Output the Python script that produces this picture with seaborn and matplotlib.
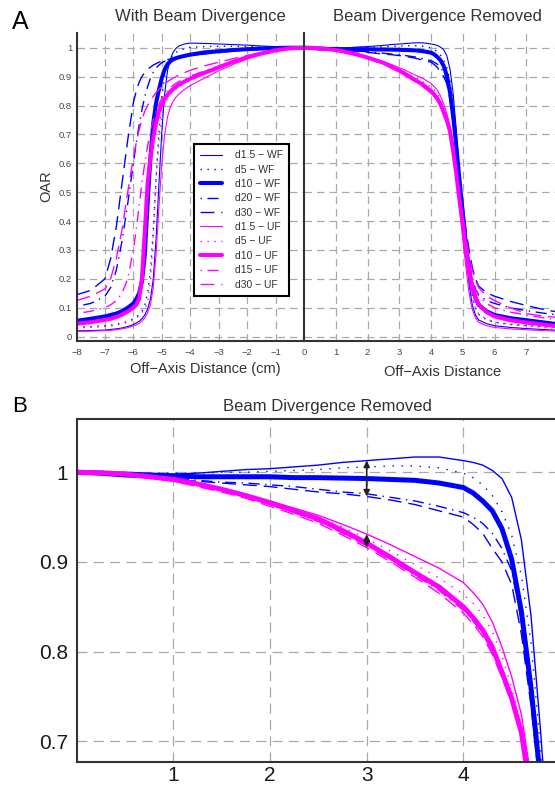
import numpy as np
import matplotlib
matplotlib.use("Agg")
import matplotlib.pyplot as plt
import seaborn as sns
from matplotlib.ticker import FuncFormatter, FixedLocator

sns.set_style("white")
plt.rcParams['font.family'] = ['Liberation Sans', 'DejaVu Sans']

# ---------------- data ----------------
series_names = ["d1.5 − WF", "d5 − WF", "d10 − WF", "d20 − WF", "d30 − WF",
                "d1.5 − UF", "d5 − UF", "d10 − UF", "d15 − UF", "d30 − UF"]

# Off-axis positions, left half (with beam divergence)
XL = [-8.0, -7.5, -7.0, -6.8, -6.6, -6.4, -6.2, -6.0, -5.9, -5.8, -5.7, -5.6, -5.5, -5.4,
      -5.3, -5.2, -5.1, -5.0, -4.9, -4.8, -4.7, -4.6, -4.5, -4.4, -4.2, -4.0, -3.5, -3.0,
      -2.5, -2.0, -1.5, -1.0, -0.5, 0.0]

wd_d15_WF = [.020, .021, .023, .025, .027, .030, .035, .042, .047, .053, .062, .075, .095, .13,
             .20, .34, .53, .71, .84, .92, .96, .985, .998, 1.006, 1.013, 1.016, 1.015, 1.013,
             1.011, 1.009, 1.006, 1.004, 1.001, 1.0]
wd_d5_WF = [.033, .035, .038, .040, .043, .047, .053, .062, .068, .076, .088, .11, .15, .23,
            .37, .55, .71, .83, .90, .94, .962, .975, .984, .990, .997, 1.001, 1.004, 1.005,
            1.005, 1.004, 1.003, 1.002, 1.001, 1.0]
wd_d10_WF = [.055, .062, .070, .075, .080, .088, .100, .115, .130, .150, .190, .280, .460, .620,
             .740, .810, .855, .895, .925, .943, .953, .960, .964, .967, .972, .976, .984, .988,
             .992, .995, .997, .999, 1.0, 1.0]
wd_d20_WF = [.105, .115, .140, .170, .230, .330, .460, .600, .670, .730, .785, .830, .865, .895,
             .915, .930, .940, .948, .953, .957, .960, .962, .964, .966, .969, .972, .978, .984,
             .988, .992, .995, .997, .999, 1.0]
wd_d30_WF = [.145, .160, .200, .270, .380, .530, .680, .810, .850, .880, .900, .915, .925, .933,
             .940, .945, .950, .953, .956, .959, .961, .963, .965, .967, .970, .973, .979, .985,
             .989, .993, .996, .998, .999, 1.0]
wd_d15_UF = [.018, .019, .021, .022, .024, .027, .031, .037, .041, .046, .054, .065, .082, .11,
             .17, .29, .45, .60, .70, .76, .795, .815, .829, .84, .856, .869, .895, .92,
             .942, .961, .977, .989, .997, 1.0]
wd_d5_UF = [.030, .032, .035, .037, .040, .044, .050, .058, .064, .072, .083, .098, .12, .19,
            .35, .55, .68, .76, .80, .825, .84, .85, .858, .865, .877, .888, .91, .93,
            .949, .965, .979, .99, .997, 1.0]
wd_d10_UF = [.045, .050, .058, .062, .068, .076, .087, .100, .110, .130, .200, .360, .530, .620,
             .690, .740, .780, .805, .823, .837, .848, .857, .865, .872, .883, .893, .913, .932,
             .951, .967, .980, .991, .998, 1.0]
wd_d15b_UF = [.080, .088, .100, .110, .125, .150, .200, .300, .370, .450, .530, .600, .660, .710,
              .750, .780, .805, .825, .840, .852, .862, .870, .877, .883, .893, .902, .920, .937,
              .953, .967, .980, .990, .997, 1.0]
wd_d30_UF = [.125, .140, .165, .200, .270, .370, .500, .620, .670, .715, .750, .780, .800, .818,
             .832, .845, .856, .866, .874, .882, .889, .895, .900, .905, .914, .922, .937, .950,
             .962, .973, .983, .991, .997, 1.0]

# Off-axis positions, right half (beam divergence removed) - also panel B
XR = [0.0, 0.25, 0.5, 0.75, 1.0, 1.25, 1.5, 1.75, 2.0, 2.25, 2.5, 2.75, 3.0, 3.25, 3.5, 3.75,
      4.0, 4.1, 4.2, 4.3, 4.4, 4.5, 4.6, 4.7, 4.8, 4.9, 5.0, 5.1, 5.2, 5.3, 5.4, 5.5,
      5.75, 6.0, 6.5, 7.0, 7.5, 8.0]

rm_d15_WF = [1.0, 1.0, 1.0, .999, .998, .999, 1.001, 1.003, 1.004, 1.006, 1.008, 1.011, 1.013,
             1.015, 1.017, 1.017, 1.013, 1.011, 1.008, 1.002, .993, .972, .925, .84, .71, .56,
             .42, .29, .18, .11, .075, .058, .045, .038, .032, .028, .025, .022]
rm_d5_WF = [1.0, 1.0, 1.0, .999, .999, .999, 1.0, 1.0, 1.001, 1.002, 1.003, 1.005, 1.006,
            1.007, 1.007, 1.005, .999, .994, .986, .974, .956, .93, .885, .81, .69, .56,
            .43, .31, .21, .14, .10, .077, .058, .05, .043, .039, .035, .032]
rm_d10_WF = [1.0, .999, .997, .996, .996, .995, .995, .995, .995, .994, .994, .9935, .993,
             .992, .991, .988, .983, .977, .968, .957, .937, .903, .845, .76, .655, .54,
             .43, .32, .23, .17, .135, .11, .088, .075, .064, .057, .05, .043]
rm_d20_WF = [1.0, .999, .997, .995, .993, .991, .989, .988, .986, .984, .981, .978, .976,
             .972, .968, .962, .955, .95, .943, .932, .915, .89, .835, .755, .65, .54,
             .44, .34, .26, .20, .165, .145, .125, .115, .10, .09, .082, .075]
rm_d30_WF = [1.0, .999, .997, .995, .992, .99, .988, .986, .984, .981, .978, .976, .973,
             .969, .964, .957, .95, .942, .932, .915, .90, .875, .82, .74, .64, .55,
             .46, .37, .30, .24, .20, .175, .152, .14, .122, .108, .095, .085]
rm_d15_UF = [1.0, .9995, .998, .995, .992, .987, .982, .975, .968, .96, .952, .942, .931,
             .919, .906, .893, .877, .866, .853, .833, .805, .772, .73, .66, .55, .44,
             .34, .24, .15, .095, .065, .05, .038, .032, .027, .024, .021, .019]
rm_d5_UF = [1.0, .9995, .998, .995, .992, .987, .981, .974, .967, .958, .95, .939, .926,
            .912, .897, .882, .864, .854, .841, .822, .795, .76, .718, .648, .555, .455,
            .365, .27, .19, .135, .10, .08, .06, .05, .042, .037, .032, .028]
rm_d10_UF = [1.0, .9995, .998, .995, .992, .987, .981, .974, .966, .957, .948, .935, .921,
             .905, .888, .872, .85, .838, .824, .805, .777, .748, .71, .64, .56, .47,
             .39, .30, .225, .17, .135, .112, .085, .07, .057, .049, .042, .036]
rm_d15b_UF = [1.0, .9995, .998, .994, .99, .985, .979, .972, .964, .955, .945, .932, .918,
              .902, .885, .868, .846, .834, .82, .80, .773, .744, .706, .64, .565, .48,
              .40, .32, .25, .20, .165, .14, .115, .10, .085, .075, .066, .058]
rm_d30_UF = [1.0, .9995, .997, .994, .99, .984, .978, .971, .962, .953, .943, .93, .916,
             .90, .883, .865, .843, .831, .817, .797, .771, .743, .706, .645, .575, .495,
             .42, .345, .28, .23, .195, .17, .14, .125, .10, .08, .072, .066]

with_div = [wd_d15_WF, wd_d5_WF, wd_d10_WF, wd_d20_WF, wd_d30_WF,
            wd_d15_UF, wd_d5_UF, wd_d10_UF, wd_d15b_UF, wd_d30_UF]
removed = [rm_d15_WF, rm_d5_WF, rm_d10_WF, rm_d20_WF, rm_d30_WF,
           rm_d15_UF, rm_d5_UF, rm_d10_UF, rm_d15b_UF, rm_d30_UF]

# ---------------- styles ----------------
BLUE = '#0000ff'
MAG = '#ff00ff'
colors = [BLUE] * 5 + [MAG] * 5
kinds = ['thin', 'dot', 'thick', 'dashdot', 'dash'] * 2


def line_style(kind, panel):
    big = panel == 'B'
    if kind == 'thin':
        return dict(linewidth=1.0 if big else 0.8, linestyle='-')
    if kind == 'thick':
        return dict(linewidth=3.6 if big else 2.9, linestyle='-')
    if kind == 'dot':
        return dict(linewidth=1.0, linestyle=(0, (1, 5.5) if big else (1, 4)))
    if kind == 'dashdot':
        return dict(linewidth=1.0, linestyle=(0, (1, 4, 8, 4)))
    return dict(linewidth=1.0, linestyle=(0, (10, 5)))


W, H = 555, 785
fig = plt.figure(figsize=(W / 100, H / 100), dpi=100)


def px_axes(l, t, r, b):
    return fig.add_axes([l / W, 1 - b / H, (r - l) / W, (b - t) / H])


axL = px_axes(76.5, 33, 304, 341)
axR = px_axes(304, 33, 558, 341)
axB = px_axes(76.7, 419, 560, 762.3)

SPINE = '#333333'
for ax, dash in ((axL, (6, 4)), (axR, (6, 4)), (axB, (8, 5))):
    ax.set_axisbelow(True)
    ax.grid(True, color='#a9a9a9', linestyle=(0, dash), linewidth=0.9)
    for s in ax.spines.values():
        s.set_color(SPINE)
        s.set_linewidth(1.5)

# draw curves
for i, name in enumerate(series_names):
    stA = line_style(kinds[i], 'A')
    stB = line_style(kinds[i], 'B')
    sns.lineplot(x=XL, y=with_div[i], ax=axL, color=colors[i], estimator=None, sort=False,
                 legend=False, label=name, **stA)
    sns.lineplot(x=XR, y=removed[i], ax=axR, color=colors[i], estimator=None, sort=False,
                 legend=False, **stA)
    sns.lineplot(x=XR, y=removed[i], ax=axB, color=colors[i], estimator=None, sort=False,
                 legend=False, **stB)

fmt = FuncFormatter(lambda v, p: f"{v:g}".replace('-', '\u2212'))

# panel A left
axL.set_xlim(-8, 0)
axL.set_ylim(-0.015, 1.051)
axL.xaxis.set_major_locator(FixedLocator(list(range(-8, 1))))
axL.yaxis.set_major_locator(FixedLocator([round(0.1 * k, 1) for k in range(11)]))
axL.xaxis.set_major_formatter(fmt)
axL.yaxis.set_major_formatter(fmt)
axL.spines['top'].set_visible(False)
axL.spines['right'].set_visible(False)
axL.tick_params(axis='both', labelsize=6.8, labelcolor='#444444', length=0)
axL.tick_params(axis='x', pad=5.0)
axL.tick_params(axis='y', pad=3.2)
axL.set_xlabel('')
axL.set_ylabel('')

# panel A right
axR.set_xlim(0, 8)
axR.set_ylim(-0.015, 1.051)
axR.xaxis.set_major_locator(FixedLocator(list(range(1, 9))))
axR.yaxis.set_major_locator(FixedLocator([round(0.1 * k, 1) for k in range(11)]))
axR.xaxis.set_major_formatter(fmt)
axR.set_yticklabels([])
axR.spines['top'].set_visible(False)
axR.spines['right'].set_visible(False)
axR.tick_params(axis='both', labelsize=6.8, labelcolor='#444444', length=0)
axR.tick_params(axis='x', pad=5.0)
axR.set_xlabel('')
axR.set_ylabel('')

# panel B
axB.set_xlim(0, 5)
axB.set_ylim(0.6766, 1.0594)
axB.xaxis.set_major_locator(FixedLocator([1, 2, 3, 4]))
axB.yaxis.set_major_locator(FixedLocator([0.7, 0.8, 0.9, 1.0]))
axB.xaxis.set_major_formatter(fmt)
axB.yaxis.set_major_formatter(fmt)
axB.spines['right'].set_visible(False)
axB.tick_params(axis='both', labelsize=15, labelcolor='#1a1a1a', length=0)
axB.tick_params(axis='x', pad=2.5)
axB.tick_params(axis='y', pad=6.0)
axB.set_xlabel('')
axB.set_ylabel('')

# arrows at x = 3 in panel B, spanning the spread of the series
i3 = XR.index(3.0)
for top, bot in ((rm_d15_WF[i3], rm_d30_WF[i3]), (rm_d15_UF[i3], rm_d30_UF[i3])):
    axB.annotate('', xy=(3.0, bot), xytext=(3.0, top),
                 arrowprops=dict(arrowstyle='<|-|>', color='#222222', lw=1.2,
                                 mutation_scale=9, shrinkA=0, shrinkB=0))

# legend
handles, labels = axL.get_legend_handles_labels()
leg = axL.legend(handles, labels, loc='upper left', bbox_to_anchor=(194 / W, 1 - 144 / H),
                 bbox_transform=fig.transFigure, borderaxespad=0, fontsize=7.5,
                 handlelength=2.1, handletextpad=1.2, labelspacing=0.42, borderpad=0.6,
                 fancybox=False, framealpha=1, edgecolor='black')
leg.get_frame().set_linewidth(1.5)
for t in leg.get_texts():
    t.set_color('#333333')

# texts
TXT = '#333333'
fig.text(200 / W, 1 - 17 / H, 'With Beam Divergence', ha='center', va='center', fontsize=12, color=TXT)
fig.text(437 / W, 1 - 17 / H, 'Beam Divergence Removed', ha='center', va='center', fontsize=12, color=TXT)
fig.text(327 / W, 1 - 407 / H, 'Beam Divergence Removed', ha='center', va='center', fontsize=12, color=TXT)
fig.text(205 / W, 1 - 369 / H, 'Off\u2212Axis Distance (cm)', ha='center', va='center', fontsize=10.5, color=TXT)
fig.text(443 / W, 1 - 372 / H, 'Off\u2212Axis Distance', ha='center', va='center', fontsize=10.5, color=TXT)
fig.text(46 / W, 1 - 186 / H, 'OAR', ha='center', va='center', rotation=90, fontsize=10.5, color=TXT)
fig.text(20 / W, 1 - 22 / H, 'A', ha='center', va='center', fontsize=18, color='black')
fig.text(20 / W, 1 - 407 / H, 'B', ha='center', va='center', fontsize=16, color='black')

fig.savefig('out.png', dpi=100)
